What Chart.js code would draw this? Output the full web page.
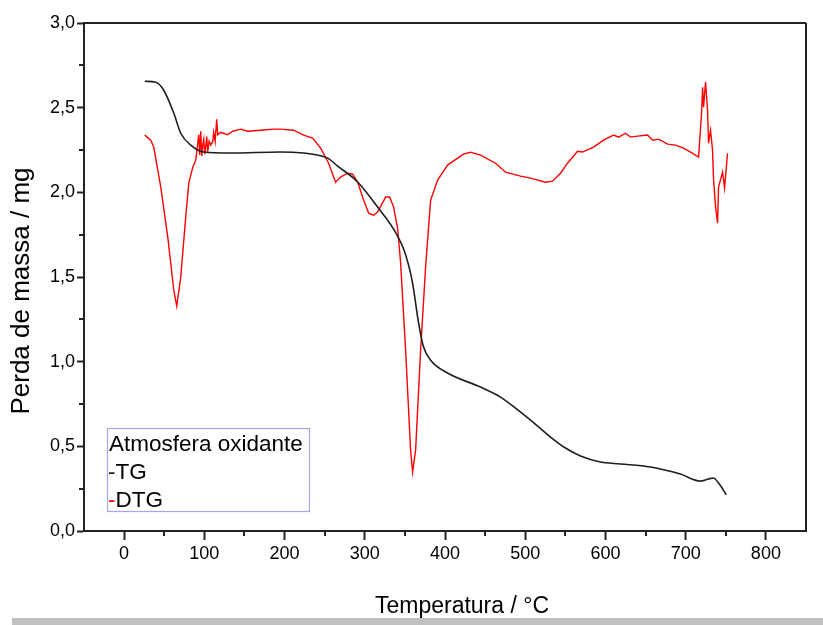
<!DOCTYPE html>
<html>
<head>
<meta charset="utf-8">
<title>TG / DTG - Atmosfera oxidante</title>
<script src="https://cdn.jsdelivr.net/npm/chart.js@4/dist/chart.umd.min.js"></script>
<style>
  html, body { margin: 0; padding: 0; background: #ffffff; }
  #wrap { position: relative; width: 823px; height: 625px; }
  #band { position: absolute; left: 12px; top: 618px; width: 811px; height: 7px; background: #c0c0c0; }
</style>
</head>
<body>
<div id="wrap">
  <canvas id="chart" width="823" height="625"></canvas>
  <div id="band"></div>
</div>
<script>
// Temperature (°C) and mass (mg) for the thermogravimetric curve
const tgTemp = [25.8, 39.5, 49.4, 61.9, 70.6, 83.1, 99.3, 132.9, 195.1, 223.8, 241.2, 253.7, 266.2,
  291.1, 316.0, 335.9, 348.4, 354.6, 359.6, 367.1, 373.3, 382.1, 403.2, 444.3, 469.2, 487.9,
  506.6, 531.5, 550.2, 568.9, 593.8, 618.7, 656.1, 693.4, 718.3, 728.3, 734.5, 742.0, 750.7];
const tgMass = [2.656, 2.650, 2.603, 2.468, 2.349, 2.279, 2.238, 2.232, 2.238, 2.232, 2.220, 2.202, 2.155,
  2.061, 1.913, 1.783, 1.665, 1.570, 1.464, 1.228, 1.086, 1.009, 0.933, 0.850, 0.791, 0.726,
  0.655, 0.555, 0.490, 0.443, 0.407, 0.396, 0.378, 0.336, 0.295, 0.307, 0.313, 0.277, 0.213];

// Derivative curve (DTG), plotted on the same mass axis
const dtgTemp = [25.8, 33.2, 37.0, 45.7, 54.4, 61.9, 65.6, 70.6, 76.8, 80.6, 85.6, 89.3, 91.8,
  93.0, 94.2, 95.5, 96.8, 98.0, 99.3, 100.5, 101.7, 103.0, 104.2, 106.0, 108.0, 110.5, 111.7,
  113.5, 115.4, 116.7, 120.4, 129.1, 135.4, 145.3, 154.0, 170.2, 186.4, 195.1, 211.3, 223.8,
  235.0, 245.0, 254.9, 263.6, 269.8, 278.6, 284.8, 291.1, 298.6, 304.8, 311.0, 316.0, 326.0,
  331.0, 335.9, 340.9, 344.6, 350.9, 357.1, 359.6, 363.4, 369.6, 375.8, 382.1, 390.8, 403.2,
  423.1, 431.8, 444.3, 463.0, 475.5, 494.2, 506.6, 525.3, 534.0, 544.0, 552.7, 565.2, 571.4,
  585.1, 597.6, 610.1, 616.4, 625.1, 631.3, 640.1, 652.5, 658.8, 666.3, 677.5, 687.4, 697.4,
  706.1, 716.1, 719.8, 721.1, 722.3, 724.8, 727.3, 728.5, 731.0, 733.5, 734.8, 737.3, 739.8,
  741.0, 746.0, 748.5, 752.2];
const dtgMass = [2.338, 2.308, 2.267, 2.031, 1.736, 1.423, 1.328, 1.499, 1.854, 2.054, 2.149, 2.190, 2.290,
  2.340, 2.220, 2.361, 2.215, 2.279, 2.314, 2.225, 2.267, 2.330, 2.240, 2.302, 2.279, 2.302, 2.355,
  2.300, 2.432, 2.340, 2.355, 2.340, 2.361, 2.373, 2.361, 2.367, 2.373, 2.373, 2.367, 2.338,
  2.320, 2.261, 2.172, 2.060, 2.090, 2.113, 2.107, 2.060, 1.954, 1.877, 1.865, 1.883, 1.972,
  1.972, 1.913, 1.789, 1.588, 1.069, 0.478, 0.348, 0.478, 1.069, 1.558, 1.954, 2.072, 2.161,
  2.226, 2.237, 2.220, 2.172, 2.119, 2.096, 2.084, 2.060, 2.066, 2.113, 2.172, 2.243, 2.238,
  2.267, 2.308, 2.338, 2.326, 2.349, 2.326, 2.332, 2.338, 2.308, 2.314, 2.285, 2.279, 2.261,
  2.237, 2.208, 2.468, 2.621, 2.503, 2.651, 2.485, 2.290, 2.367, 2.249, 2.072, 1.913, 1.818,
  2.031, 2.119, 2.025, 2.231];

const xTicks = [0, 100, 200, 300, 400, 500, 600, 700, 800];
const yTicks = [0, 0.5, 1.0, 1.5, 2.0, 2.5, 3.0];
const legendTitle = 'Atmosfera oxidante';
const xTitle = 'Temperatura / °C';
const yTitle = 'Perda de massa / mg';

const FONT = 'Arial, "Liberation Sans", sans-serif';
const AXIS_COLOR = '#222222';

// Frame, minor ticks, axis titles and the boxed legend
const decorations = {
  id: 'decorations',
  afterDraw(chart) {
    const ctx = chart.ctx;
    const a = chart.chartArea;
    const xs = chart.scales.x, ys = chart.scales.y;
    ctx.save();
    ctx.strokeStyle = AXIS_COLOR;
    ctx.lineWidth = 2;
    ctx.beginPath();
    ctx.moveTo(a.left, a.top); ctx.lineTo(a.right, a.top);
    ctx.moveTo(a.right, a.top); ctx.lineTo(a.right, a.bottom);
    ctx.stroke();

    // minor ticks halfway between the labelled ones
    ctx.beginPath();
    for (let v = -50; v <= 850; v += 100) {
      const px = Math.round(xs.getPixelForValue(v));
      if (px <= a.left + 1 || px >= a.right - 1) continue;
      ctx.moveTo(px, a.bottom); ctx.lineTo(px, a.bottom + 5);
    }
    for (let v = 0.25; v < 3; v += 0.5) {
      const py = Math.round(ys.getPixelForValue(v));
      ctx.moveTo(a.left, py); ctx.lineTo(a.left - 5, py);
    }
    ctx.stroke();

    // axis titles
    ctx.fillStyle = '#000000';
    ctx.font = '23px ' + FONT;
    ctx.textAlign = 'center';
    ctx.textBaseline = 'alphabetic';
    ctx.fillText(xTitle, 462, 613);
    ctx.save();
    ctx.translate(29, 291);
    ctx.rotate(-Math.PI / 2);
    ctx.font = '26px ' + FONT;
    ctx.fillText(yTitle, 0, 0);
    ctx.restore();

    // legend box
    ctx.strokeStyle = '#a6a6ea';
    ctx.lineWidth = 1.2;
    ctx.strokeRect(107.5, 428.5, 202, 83);
    ctx.font = '22.5px ' + FONT;
    ctx.textAlign = 'left';
    ctx.fillStyle = '#000000';
    ctx.fillText(legendTitle, 109, 451);
    chart.data.datasets.forEach((ds, i) => {
      const y = 479 + i * 28;
      ctx.fillStyle = ds.borderColor;
      ctx.fillText('-', 108, y);
      const w = ctx.measureText('-').width;
      ctx.fillStyle = '#000000';
      ctx.fillText(ds.label, 108 + w, y);
    });
    ctx.restore();
  }
};

new Chart(document.getElementById('chart'), {
  type: 'scatter',
  data: {
    datasets: [
      {
        label: 'TG',
        data: tgTemp.map((t, i) => ({ x: t, y: tgMass[i] })),
        showLine: true,
        borderColor: '#1e1e1e',
        borderWidth: 1.6,
        pointRadius: 0,
        cubicInterpolationMode: 'monotone'
      },
      {
        label: 'DTG',
        data: dtgTemp.map((t, i) => ({ x: t, y: dtgMass[i] })),
        showLine: true,
        borderColor: '#ff0000',
        borderWidth: 1.4,
        pointRadius: 0,
        tension: 0
      }
    ]
  },
  options: {
    responsive: false,
    animation: false,
    events: [],
    layout: { padding: { top: 23, right: 17, left: 0, bottom: 0 } },
    plugins: { legend: { display: false }, tooltip: { enabled: false } },
    scales: {
      x: {
        type: 'linear',
        min: -50,
        max: 850,
        afterFit(scale) { scale.height = 94; },
        afterBuildTicks(scale) { scale.ticks = xTicks.map(v => ({ value: v })); },
        border: { display: true, color: AXIS_COLOR, width: 2 },
        grid: { drawOnChartArea: false, drawTicks: true, tickLength: 9, tickWidth: 2, tickColor: AXIS_COLOR },
        ticks: { color: '#000000', font: { family: FONT, size: 18 }, padding: 3, maxRotation: 0, autoSkip: false }
      },
      y: {
        type: 'linear',
        min: 0,
        max: 3,
        afterFit(scale) { scale.width = 84; },
        afterBuildTicks(scale) { scale.ticks = yTicks.map(v => ({ value: v })); },
        border: { display: true, color: AXIS_COLOR, width: 2 },
        grid: { drawOnChartArea: false, drawTicks: true, tickLength: 7, tickWidth: 2, tickColor: AXIS_COLOR },
        ticks: {
          color: '#000000',
          font: { family: FONT, size: 18 },
          padding: 2,
          autoSkip: false,
          callback: v => v.toFixed(1).replace('.', ',')
        }
      }
    }
  },
  plugins: [decorations]
});
</script>
</body>
</html>
